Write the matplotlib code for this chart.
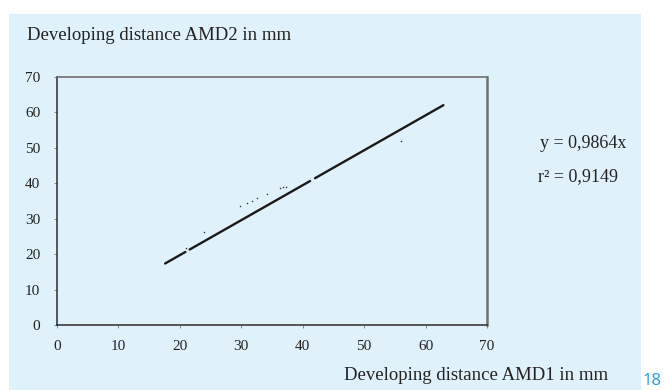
import numpy as np
import matplotlib
matplotlib.use('Agg')
import matplotlib.pyplot as plt
from matplotlib.patches import Rectangle

# fitted relation shown in the chart
slope = 0.9864
r_squared = 0.9149

# dense run of measurements drawn as a thick line (x ranges in mm, gaps as in the print)
line_segments = [(17.6, 20.9), (21.6, 41.2), (42.0, 62.9)]

# isolated measurements off the main run
scatter_x = [21.0, 24.0, 29.8, 31.0, 31.7, 32.6, 34.2, 36.3, 36.8, 37.2, 56.0]
scatter_y = [21.8, 26.3, 33.6, 34.5, 35.0, 35.9, 37.0, 38.6, 38.9, 38.9, 51.9]

ticks = [0, 10, 20, 30, 40, 50, 60, 70]
title = "Developing distance AMD2 in mm"
xlabel = "Developing distance AMD1 in mm"
page_number = "18"

W, H = 664, 390
panel_color = '#dff1fa'
serif = ['Liberation Serif', 'DejaVu Serif']

fig = plt.figure(figsize=(W / 100, H / 100), dpi=100)
fig.patch.set_facecolor('white')

# light blue panel behind everything
fig.patches.append(Rectangle((9 / W, 0), (641 - 9) / W, 1 - 14 / H,
                             transform=fig.transFigure, facecolor=panel_color,
                             edgecolor='none', zorder=-5))

ax = fig.add_axes([57 / W, 1 - 325 / H, (487 - 57) / W, (325 - 77) / H])
ax.set_facecolor('none')
ax.set_zorder(1)

for x0, x1 in line_segments:
    xs = np.array([x0, x1])
    ax.plot(xs, slope * xs, color='#1a1a1a', lw=1.7, solid_capstyle='round')

ax.scatter(scatter_x, scatter_y, s=1.2, color='#333333', linewidths=0)

ax.set_xlim(0, 70)
ax.set_ylim(0, 70)
ax.set_xticks(ticks)
ax.set_yticks(ticks)
ax.tick_params(length=2, width=0.6, color='#777777', labelsize=11,
               labelcolor='#222222')
ax.tick_params(axis='x', pad=9)
ax.tick_params(axis='y', pad=10)
for lab in ax.get_xticklabels() + ax.get_yticklabels():
    lab.set_family(serif)

ax.spines['left'].set_color('#2b2b2b')
ax.spines['bottom'].set_color('#2b2b2b')
ax.spines['left'].set_linewidth(1.1)
ax.spines['bottom'].set_linewidth(1.1)
ax.spines['top'].set_color('#707070')
ax.spines['top'].set_linewidth(1.2)
ax.spines['right'].set_color('#707070')
ax.spines['right'].set_linewidth(1.8)

fig.text(27 / W, 1 - 35 / H, title, family=serif, fontsize=13.5,
         color='#222222', va='center', ha='left')
fig.text(608 / W, 1 - 375 / H, xlabel, family=serif, fontsize=13.5,
         color='#222222', va='center', ha='right')

fig.text(540 / W, 1 - 143 / H, "y = {}x".format(str(slope).replace('.', ',')),
         family=serif, fontsize=13, color='#222222', va='center', ha='left')
fig.text(538 / W, 1 - 177 / H, "r\u00b2 = {}".format(str(r_squared).replace('.', ',')),
         family=serif, fontsize=13, color='#222222', va='center', ha='left')

fig.text(643 / W, 1 - 389 / H, page_number, family=['Open Sans', 'DejaVu Sans'],
         fontsize=12, color='#1e9fdc', va='bottom', ha='left')

fig.savefig('out.png', dpi=100, facecolor='white')
